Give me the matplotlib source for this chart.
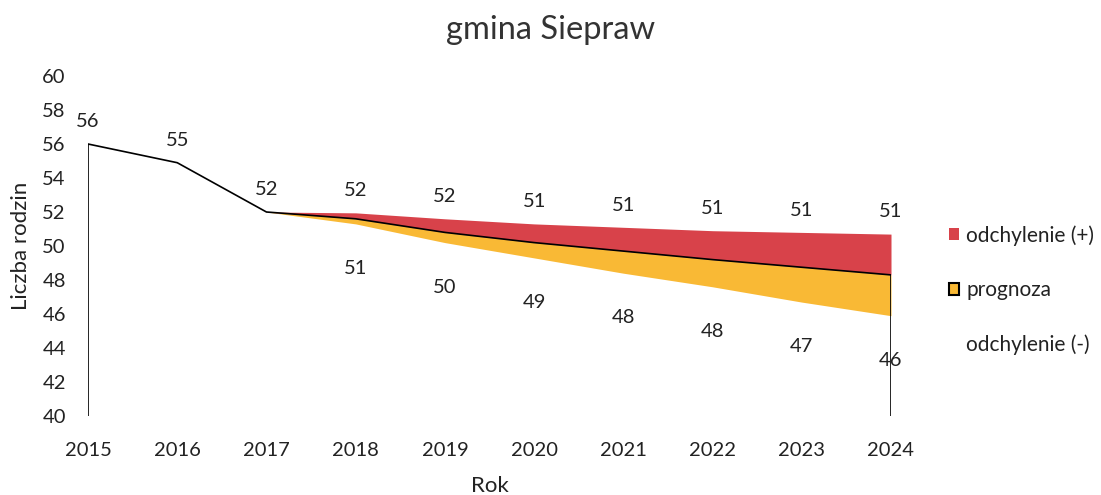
import matplotlib.pyplot as plt
from matplotlib.patches import Patch

plt.rcParams['font.family'] = ['Lato', 'DejaVu Sans']

# data
years = [2015, 2016, 2017, 2018, 2019, 2020, 2021, 2022, 2023, 2024]
prognoza = [56.0, 54.9, 52.0, 51.6, 50.8, 50.2, 49.7, 49.2, 48.75, 48.3]
upper = [56.0, 54.9, 52.0, 51.95, 51.6, 51.3, 51.1, 50.9, 50.8, 50.7]
lower = [56.0, 54.9, 52.0, 51.3, 50.2, 49.3, 48.4, 47.6, 46.7, 45.9]
base = 40

red = '#D8424A'
yellow = '#F9B935'
txt = '#222222'

fig = plt.figure(figsize=(11.01, 4.95), dpi=100)
ax = fig.add_axes([88 / 1101, 1 - 416 / 495, (891 - 88) / 1101, (416 - 76) / 495])

# stacked areas: white (-) deviation, yellow forecast, red (+) deviation
ax.fill_between(years, base, lower, color='white', lw=0)
ax.fill_between(years, lower, prognoza, color=yellow, lw=0)
ax.fill_between(years, prognoza, upper, color=red, lw=0)

# black outline of the forecast series
ax.plot([years[0]] + years + [years[-1]], [base] + prognoza + [base],
        color='black', lw=1.2, solid_joinstyle='miter')

# value labels
for x, v in zip(years, upper):
    ax.annotate(f'{v:.0f}', (x, v), xytext=(0, 16), textcoords='offset points',
                ha='center', va='center', fontsize=14.5, color=txt)
for x, lo, up in zip(years, lower, upper):
    if lo < up:
        ax.annotate(f'{lo:.0f}', (x, lo), xytext=(0, -32), textcoords='offset points',
                    ha='center', va='center', fontsize=14.5, color=txt)

ax.set_xlim(2015, 2024)
ax.set_ylim(40, 60)
ax.set_xticks(years)
ax.set_yticks(range(40, 61, 2))
ax.tick_params(length=0, labelsize=14.5, labelcolor=txt)
ax.tick_params(axis='x', pad=19)
ax.tick_params(axis='y', pad=16)
for s in ax.spines.values():
    s.set_visible(False)

ax.set_xlabel('Rok', fontsize=16, color=txt, labelpad=12)
ax.set_ylabel('Liczba rodzin', fontsize=16, color=txt, labelpad=8)

fig.text(551 / 1101, 1 - 30 / 495, 'gmina Siepraw', ha='center', va='center',
         fontsize=23.5, color='#333333')

handles = [Patch(facecolor=red, edgecolor='none'),
           Patch(facecolor=yellow, edgecolor='black', lw=1.5),
           Patch(facecolor='white', edgecolor='none')]
labels = ['odchylenie (+)', 'prognoza', 'odchylenie (-)']
fig.legend(handles, labels, loc='center left', bbox_to_anchor=(930 / 1101, 1 - 290 / 495),
           frameon=False, fontsize=15, handlelength=0.5, handleheight=0.5,
           handletextpad=0.35, labelspacing=1.65, labelcolor=txt)

fig.savefig('out.png', dpi=100)
